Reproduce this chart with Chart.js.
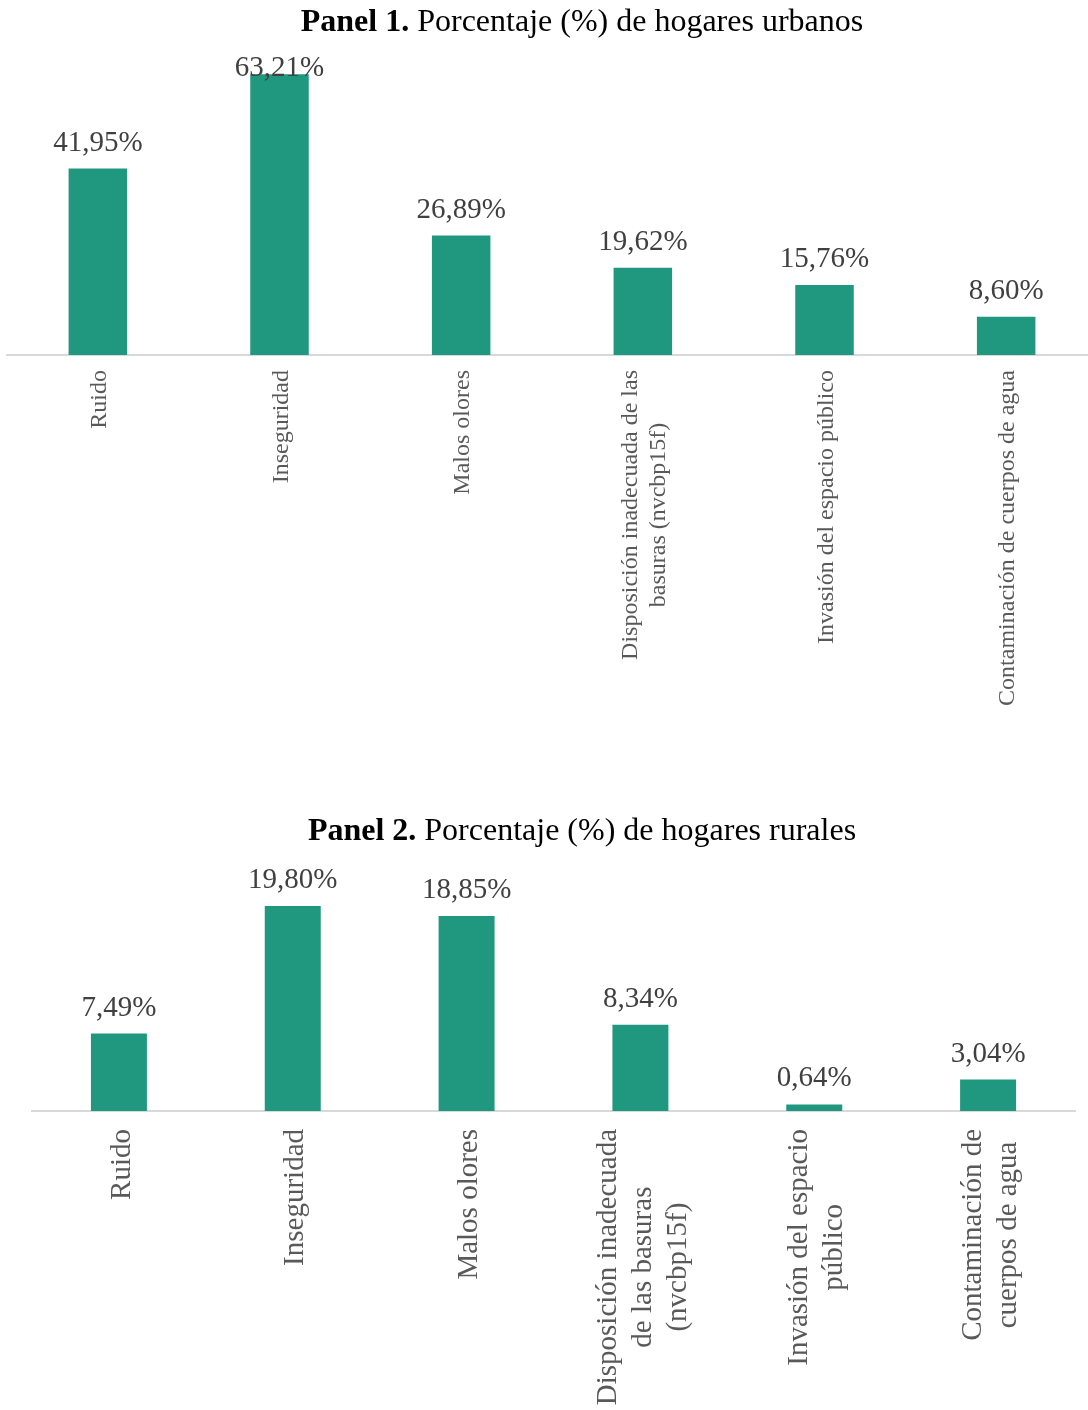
<!DOCTYPE html>
<html><head><meta charset="utf-8">
<script src="https://cdn.jsdelivr.net/npm/chart.js@4.4.1/dist/chart.umd.min.js"></script>
<style>
html,body{margin:0;padding:0;background:#fff;overflow:hidden;width:1088px;height:1410px;}
#wrap{position:relative;width:1088px;height:1410px;overflow:hidden;background:#fff;}
canvas{position:absolute;left:0;}
#c1{top:0;width:1100px;height:760px;}
#c2{top:760px;width:1100px;height:650px;}
</style></head><body>
<div id="wrap"><canvas id="c1" width="1100" height="760"></canvas><canvas id="c2" width="1100" height="650"></canvas></div>
<script>
// ---- data ----
const categoriesUrban = [["Ruido"],["Inseguridad"],["Malos olores"],["Disposición inadecuada de las","basuras (nvcbp15f)"],["Invasión del espacio público"],["Contaminación de cuerpos de agua"]];
const valuesUrban = [41.95, 63.21, 26.89, 19.62, 15.76, 8.60];
const categoriesRural = [["Ruido"],["Inseguridad"],["Malos olores"],["Disposición inadecuada","de las basuras","(nvcbp15f)"],["Invasión del espacio","público"],["Contaminación de","cuerpos de agua"]];
const valuesRural = [7.49, 19.80, 18.85, 8.34, 0.64, 3.04];
const titleUrban = ["Panel 1.", " Porcentaje (%) de hogares urbanos"];
const titleRural = ["Panel 2.", " Porcentaje (%) de hogares rurales"];
const yMaxUrban = 70;
const yMaxRural = 23;

const BAR = '#20977f';
const SERIF = '"Liberation Serif","Times New Roman",serif';

function makePlugin(cfg) {
  return {
    id: 'panelDecor',
    afterDatasetsDraw(chart) {
      const ctx = chart.ctx;
      const meta = chart.getDatasetMeta(0);
      const xs = chart.scales.x;
      const area = chart.chartArea;
      ctx.save();
      // value labels
      ctx.font = cfg.valueFont;
      ctx.fillStyle = '#404040';
      ctx.textAlign = 'center';
      ctx.textBaseline = 'middle';
      meta.data.forEach((bar, i) => {
        const v = chart.data.datasets[0].data[i];
        const y = Math.max(bar.y - 25.5, area.top + cfg.clamp);
        ctx.fillText(v.toFixed(2).replace('.', ',') + '%', bar.x, y);
      });
      // category labels (rotated, lines centered)
      ctx.font = cfg.tickFont;
      ctx.fillStyle = '#595959';
      chart.data.labels.forEach((lines, i) => {
        const x = xs.getPixelForValue(i);
        const w = Math.max(...lines.map(l => ctx.measureText(l).width));
        const cy = area.bottom + cfg.tickGap + w / 2;
        lines.forEach((l, j) => {
          ctx.save();
          ctx.translate(x + (j - (lines.length - 1) / 2) * cfg.lineH + cfg.shift, cy);
          ctx.rotate(-Math.PI / 2);
          ctx.fillText(l, 0, 0);
          ctx.restore();
        });
      });
      // title
      ctx.textAlign = 'left';
      ctx.textBaseline = 'alphabetic';
      ctx.fillStyle = '#000';
      ctx.font = 'bold ' + cfg.titleSize + 'px ' + SERIF;
      const w1 = ctx.measureText(cfg.title[0]).width;
      ctx.font = cfg.titleSize + 'px ' + SERIF;
      const w2 = ctx.measureText(cfg.title[1]).width;
      const x0 = cfg.titleX - (w1 + w2) / 2;
      ctx.font = 'bold ' + cfg.titleSize + 'px ' + SERIF;
      ctx.fillText(cfg.title[0], x0, cfg.titleY);
      ctx.font = cfg.titleSize + 'px ' + SERIF;
      ctx.fillText(cfg.title[1], x0 + w1, cfg.titleY);
      ctx.restore();
    }
  };
}

function makeChart(id, labels, values, yMax, padding, cfg) {
  return new Chart(document.getElementById(id), {
    type: 'bar',
    data: {
      labels: labels,
      datasets: [{ data: values, backgroundColor: BAR, borderWidth: 0, barPercentage: 0.322, categoryPercentage: 1 }]
    },
    options: {
      responsive: false,
      devicePixelRatio: 1,
      animation: false,
      layout: { padding: padding },
      plugins: { legend: { display: false }, tooltip: { enabled: false }, title: { display: false } },
      scales: {
        x: {
          grid: { display: false, drawTicks: false, tickLength: 0 },
          ticks: { display: false },
          border: { display: true, color: '#d9d9d9', width: 2 },
          afterFit: s => { s.height = 0; }
        },
        y: { display: false, min: 0, max: yMax }
      }
    },
    plugins: [makePlugin(cfg)]
  });
}

makeChart('c1', categoriesUrban, valuesUrban, yMaxUrban,
  { left: 7, right: 3, top: 44, bottom: 405 },
  { valueFont: '29px ' + SERIF, tickFont: '24px ' + SERIF, tickGap: 15, lineH: 28, shift: 2, clamp: 24.5,
    title: titleUrban, titleSize: 32, titleX: 582, titleY: 31 });

makeChart('c2', categoriesRural, valuesRural, yMaxRural,
  { left: 32, right: 25, top: 113, bottom: 299 },
  { valueFont: '29px ' + SERIF, tickFont: '29px ' + SERIF, tickGap: 18, lineH: 35, shift: 3, clamp: -200,
    title: titleRural, titleSize: 32, titleX: 582, titleY: 80 });
</script>
</body></html>
